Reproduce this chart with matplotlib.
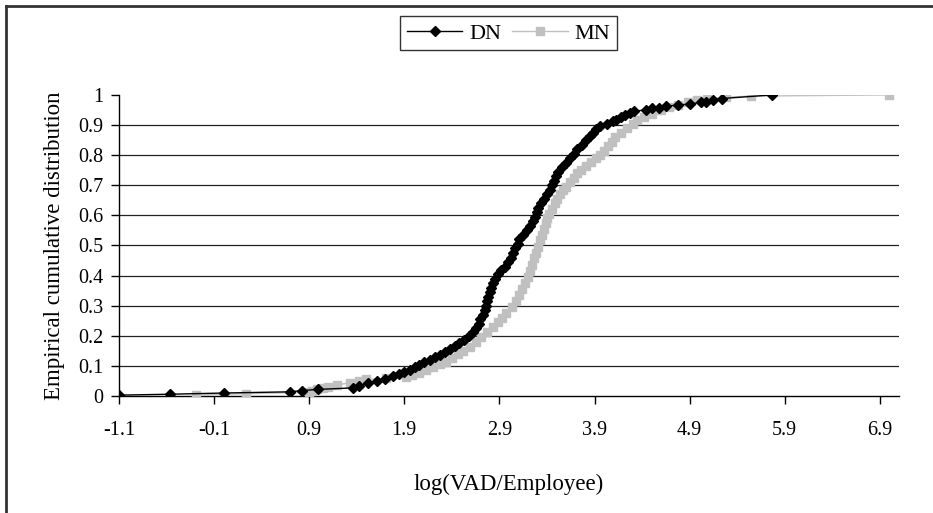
import matplotlib.pyplot as plt
from matplotlib.lines import Line2D

# Empirical CDF points: (log VAD/employee, cumulative share)
dn_x = [-1.10, -0.56, 0.00, 0.70, 0.82, 0.99, 1.36, 1.42, 1.52, 1.61, 1.70, 1.78, 1.84, 1.90,
        1.96, 2.01, 2.05, 2.11, 2.17, 2.22, 2.27, 2.33, 2.38, 2.43, 2.48, 2.53, 2.58, 2.62,
        2.65, 2.68, 2.70, 2.73, 2.75, 2.76, 2.77, 2.78, 2.80, 2.81, 2.83, 2.85, 2.88, 2.92,
        2.96, 2.99, 3.02, 3.04, 3.06, 3.09, 3.11, 3.15, 3.19, 3.22, 3.25, 3.27, 3.29, 3.31,
        3.34, 3.37, 3.40, 3.43, 3.45, 3.47, 3.49, 3.52, 3.56, 3.60, 3.64, 3.68, 3.72, 3.77,
        3.81, 3.85, 3.88, 3.92, 3.96, 4.03, 4.09, 4.13, 4.18, 4.22, 4.27, 4.31, 4.44, 4.50,
        4.58, 4.65, 4.78, 4.90, 5.02, 5.07, 5.14, 5.24, 5.77]
dn_y = [0.003, 0.006, 0.010, 0.014, 0.018, 0.022, 0.027, 0.034, 0.042, 0.051, 0.058, 0.065,
        0.072, 0.080, 0.088, 0.096, 0.104, 0.112, 0.120, 0.128, 0.136, 0.145, 0.155, 0.165,
        0.175, 0.187, 0.200, 0.212, 0.225, 0.240, 0.255, 0.270, 0.285, 0.300, 0.315, 0.330,
        0.345, 0.360, 0.375, 0.390, 0.405, 0.418, 0.430, 0.445, 0.460, 0.475, 0.490, 0.505,
        0.520, 0.535, 0.550, 0.565, 0.580, 0.595, 0.610, 0.625, 0.640, 0.655, 0.670, 0.685,
        0.700, 0.715, 0.730, 0.745, 0.760, 0.775, 0.790, 0.805, 0.820, 0.835, 0.850, 0.862,
        0.875, 0.888, 0.898, 0.905, 0.912, 0.918, 0.925, 0.932, 0.940, 0.946, 0.950, 0.955,
        0.958, 0.963, 0.966, 0.970, 0.975, 0.978, 0.983, 0.988, 1.000]

mn_x = [-0.29, 0.24, 0.90, 0.93, 0.98, 1.05, 1.10, 1.19, 1.33, 1.42, 1.50, 1.71, 1.92, 1.98,
        2.05, 2.13, 2.20, 2.27, 2.34, 2.40, 2.46, 2.52, 2.59, 2.65, 2.71, 2.77, 2.83, 2.88,
        2.93, 2.97, 3.03, 3.07, 3.11, 3.14, 3.17, 3.20, 3.22, 3.245, 3.265, 3.285, 3.305, 3.325,
        3.345, 3.365, 3.385, 3.405, 3.425, 3.45, 3.48, 3.51, 3.54, 3.57, 3.60, 3.64, 3.68, 3.72,
        3.76, 3.81, 3.86, 3.91, 3.96, 4.00, 4.04, 4.08, 4.12, 4.18, 4.24, 4.30, 4.35, 4.42,
        4.50, 4.60, 4.68, 4.78, 4.88, 4.98, 5.08, 5.28, 5.54, 7.00]
mn_y = [0.003, 0.008, 0.012, 0.017, 0.022, 0.027, 0.031, 0.037, 0.044, 0.050, 0.055, 0.059,
        0.064, 0.070, 0.077, 0.086, 0.095, 0.105, 0.114, 0.125, 0.138, 0.150, 0.164, 0.180,
        0.197, 0.213, 0.230, 0.245, 0.260, 0.275, 0.297, 0.315, 0.335, 0.355, 0.375, 0.396,
        0.415, 0.435, 0.457, 0.475, 0.495, 0.518, 0.535, 0.555, 0.574, 0.590, 0.605, 0.620,
        0.640, 0.655, 0.670, 0.685, 0.695, 0.710, 0.725, 0.740, 0.752, 0.765, 0.778, 0.790,
        0.802, 0.815, 0.830, 0.845, 0.860, 0.875, 0.890, 0.905, 0.917, 0.928, 0.938, 0.950,
        0.960, 0.968, 0.975, 0.982, 0.988, 0.992, 0.996, 1.000]

x_ticks = [-1.1, -0.1, 0.9, 1.9, 2.9, 3.9, 4.9, 5.9, 6.9]
y_ticks = [0, 0.1, 0.2, 0.3, 0.4, 0.5, 0.6, 0.7, 0.8, 0.9, 1]

plt.rcParams['font.family'] = ['Liberation Serif', 'DejaVu Serif']

fig = plt.figure(figsize=(9.33, 5.13), dpi=100)
ax = fig.add_axes([0.1275, 0.228, 0.836, 0.587])

for g in y_ticks[1:-1]:
    ax.axhline(g, color='#222222', lw=0.9, zorder=1)

ax.plot(dn_x, dn_y, color='black', lw=1, marker='D', ms=5, label='DN', zorder=4)
ax.plot(mn_x, mn_y, color='#c0c0c0', lw=1, marker='s', ms=5.5, mec='#c0c0c0', label='MN', zorder=3)

ax.set_xlim(-1.1, 7.1)
ax.set_ylim(0, 1)
ax.set_xticks(x_ticks, [f'{t:.1f}' for t in x_ticks])
ax.set_yticks(y_ticks, ['0', '0.1', '0.2', '0.3', '0.4', '0.5', '0.6', '0.7', '0.8', '0.9', '1'])
ax.tick_params(direction='out', length=6, width=1, labelsize=14.5, colors='black', pad=5)
ax.tick_params(axis='x', pad=12)
for s in ['top', 'right']:
    ax.spines[s].set_visible(False)
for s in ['left', 'bottom']:
    ax.spines[s].set_linewidth(1)
ax.set_xlabel('log(VAD/Employee)', fontsize=16.5, labelpad=24)
ax.set_ylabel('Empirical cumulative distribution', fontsize=16.5, labelpad=10)

leg = fig.legend(loc='center', bbox_to_anchor=(0.545, 0.935), ncol=2, fontsize=16,
                 frameon=True, fancybox=False, edgecolor='black', handlelength=2.5,
                 columnspacing=0.5, handletextpad=0.3, borderpad=0.3)
leg.get_frame().set_linewidth(1)

# chart frame visible on left and top
fig.add_artist(Line2D([6 / 933, 6 / 933], [0, 1 - 6 / 513], color='#333333', lw=2))
fig.add_artist(Line2D([6 / 933, 1], [1 - 6 / 513, 1 - 6 / 513], color='#333333', lw=2))

fig.savefig('out.png', dpi=100)
